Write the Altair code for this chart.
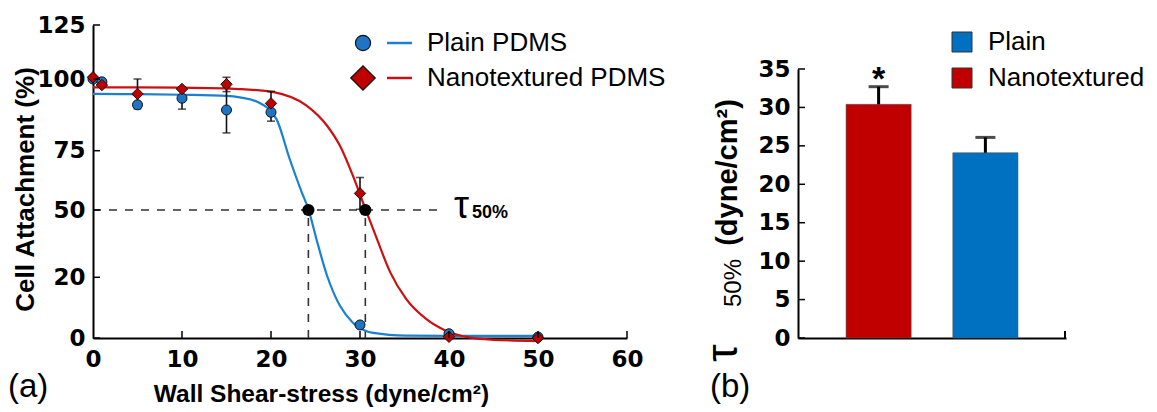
import altair as alt
import pandas as pd

# ---------------- data ----------------
stress = [0, 1, 5, 10, 15, 20, 30, 40, 50]
plain_att = [100, 99, 91, 93.3, 89.2, 88.4, 4.3, 1.4, 0.3]
plain_err = [0, 0, 0, 3.8, 8, 3.1, 0, 0, 0]
nano_att = [100.8, 97.9, 94.8, 96.5, 98.2, 91.5, 57, 0.4, 0]
nano_err = [0, 0, 5.2, 0, 2.6, 4.2, 6.7, 0, 0]

plain_fit_x = [0, 5, 10, 15, 16.5, 18.5, 20.6, 22.1, 23.45, 24.2, 25.1, 26.3, 27.75, 29.2, 31.5, 35.2, 40, 45, 50]
plain_fit_y = [94.8, 94.7, 94.5, 94.1, 93.6, 92, 86.1, 71.5, 57.5, 50.4, 37.1, 20.7, 10.6, 5.05, 1.7, 0.8, 0.7, 0.7, 0.7]
nano_fit_x = [0, 5, 10, 16.5, 20.3, 24, 26.3, 27.75, 29.2, 30.75, 31.9, 33.4, 35.2, 37.5, 39.7, 42.4, 45, 50]
nano_fit_y = [97.1, 97.1, 97, 96.5, 95.4, 90.7, 83.7, 76.7, 64.5, 49, 37.1, 22.2, 12.8, 6.1, 2.3, 0.1, -0.6, -1]

tau50_x = [24.2, 30.6]
half_level = 50
half_line_end = 39

x_ticks = [0, 10, 20, 30, 40, 50, 60]
y_ticks = [0, 20, 50, 75, 100, 125]

tau_groups = ["Nanotextured", "Plain"]
tau_values = [30.4, 24.1]
tau_errors = [2.3, 2.0]
yb_ticks = [0, 5, 10, 15, 20, 25, 30, 35]

# ---------------- styling ----------------
BLUE_LINE = "#1a80d2"
RED_LINE = "#cc1010"
BLUE_FILL = "#1f74c4"
RED_FILL = "#c00000"
BAR_RED = "#c00000"
BAR_BLUE = "#0070c0"
SANS = "Liberation Sans"
TICKF = "DejaVu Sans"

W1, H = 534, 313
W2 = 268

x_scale = alt.Scale(domain=[0, 60], nice=False, zero=False)
y_scale = alt.Scale(domain=y_ticks, range=[313, 252.3, 185, 125.7, 54, 0], nice=False, zero=False)

x_axis = alt.Axis(values=x_ticks, title="Wall Shear-stress (dyne/cm²)", ticks=False, tickSize=0,
                  labelPadding=10, labelFont=TICKF, labelFontSize=23, labelFontWeight="bold",
                  labelColor="black", labelFlush=False, labelOverlap=False,
                  domainColor="black", domainWidth=2, grid=False,
                  titleFont=SANS, titleFontSize=24.5, titleFontWeight="bold", titleColor="black",
                  titleX=228, titleY=63, titleBaseline="alphabetic", titleAlign="center")
y_axis = alt.Axis(values=y_ticks, title="Cell Attachment (%)", ticks=False, tickSize=0,
                  labelPadding=8, labelFont=TICKF, labelFontSize=23, labelFontWeight="bold",
                  labelColor="black", labelFlush=False, labelOverlap=False,
                  domainColor="black", domainWidth=2, grid=False,
                  titleFont=SANS, titleFontSize=26, titleFontWeight="bold", titleColor="black",
                  titleAngle=270, titleX=-60, titleY=164, titleBaseline="alphabetic", titleAlign="center")


def X(field):
    return alt.X(field, type="quantitative", scale=x_scale, axis=x_axis)


def Y(field):
    return alt.Y(field, type="quantitative", scale=y_scale, axis=y_axis)


pts = pd.DataFrame({"x": stress, "plain": plain_att, "pe": plain_err, "nano": nano_att, "ne": nano_err})
pts["plo"] = pts["plain"] - pts["pe"]
pts["phi"] = pts["plain"] + pts["pe"]
pts["nlo"] = pts["nano"] - pts["ne"]
pts["nhi"] = pts["nano"] + pts["ne"]

pfit = pd.DataFrame({"x": plain_fit_x, "y": plain_fit_y})
nfit = pd.DataFrame({"x": nano_fit_x, "y": nano_fit_y})

plain_line = alt.Chart(pfit).mark_line(color=BLUE_LINE, strokeWidth=2.2, interpolate="monotone").encode(
    x=X("x"), y=Y("y"))
nano_line = alt.Chart(nfit).mark_line(color=RED_LINE, strokeWidth=2.2, interpolate="monotone").encode(
    x=X("x"), y=Y("y"))

hdf = pd.DataFrame({"x0": [0], "x1": [half_line_end], "y": [half_level]})
hdash = alt.Chart(hdf).mark_rule(color="#333333", strokeWidth=1.6, strokeDash=[8, 8]).encode(
    x=X("x0"), x2="x1", y=Y("y"))
vdf = pd.DataFrame({"x": tau50_x, "y0": [0, 0], "y1": [half_level, half_level]})
vdash = alt.Chart(vdf).mark_rule(color="#333333", strokeWidth=1.6, strokeDash=[8, 8]).encode(
    x=X("x"), y=Y("y0"), y2="y1")
dots = alt.Chart(vdf).mark_circle(color="black", size=150, opacity=1).encode(x=X("x"), y=Y("y1"))

perr = pts[pts["pe"] > 0]
nerr = pts[pts["ne"] > 0]
err_layers = []
for df, lo, hi in [(perr, "plo", "phi"), (nerr, "nlo", "nhi")]:
    err_layers.append(alt.Chart(df).mark_rule(color="#111111", strokeWidth=1.6).encode(
        x=X("x"), y=Y(lo), y2=hi))
    err_layers.append(alt.Chart(df).mark_tick(color="#111111", thickness=1.6, size=8, orient="horizontal").encode(
        x=X("x"), y=Y(hi)))
    err_layers.append(alt.Chart(df).mark_tick(color="#111111", thickness=1.6, size=8, orient="horizontal").encode(
        x=X("x"), y=Y(lo)))

pmarks = alt.Chart(pts).mark_point(shape="circle", filled=True, size=100, color=BLUE_FILL,
                                   stroke="#111111", strokeWidth=1, opacity=1).encode(x=X("x"), y=Y("plain"))
nmarks = alt.Chart(pts).mark_point(shape="diamond", filled=True, size=130, color=RED_FILL,
                                   stroke="#111111", strokeWidth=1, opacity=1).encode(x=X("x"), y=Y("nano"))

ytk = alt.Chart(pd.DataFrame({"v": y_ticks})).mark_rule(color="black", strokeWidth=1.5).encode(
    y=Y("v"), x=alt.value(0), x2=alt.value(7))
xtk = alt.Chart(pd.DataFrame({"v": x_ticks[1:]})).mark_rule(color="black", strokeWidth=1.5).encode(
    x=X("v"), y=alt.value(H), y2=alt.value(H - 7))

one = pd.DataFrame({"a": [0]})


def txt(t, x, y, size, weight="normal", font=SANS, align="left", baseline="middle", angle=0):
    kw = dict(text=t, fontSize=size, fontWeight=weight, font=font, align=align, baseline=baseline, color="black")
    if angle:
        kw["angle"] = angle
    return alt.Chart(one).mark_text(**kw).encode(x=alt.value(x), y=alt.value(y))


leg_left = [
    alt.Chart(one).mark_point(shape="circle", filled=True, size=230, color=BLUE_FILL, stroke="#111111",
                              strokeWidth=1.2, opacity=1).encode(x=alt.value(270), y=alt.value(18)),
    alt.Chart(one).mark_rule(color=BLUE_LINE, strokeWidth=2.5).encode(x=alt.value(294), x2=alt.value(319), y=alt.value(18)),
    txt("Plain PDMS", 334, 18, 26),
    alt.Chart(one).mark_point(shape="diamond", filled=True, size=600, color=RED_FILL, stroke="#111111",
                              strokeWidth=1.2, opacity=1).encode(x=alt.value(270), y=alt.value(53)),
    alt.Chart(one).mark_rule(color=RED_LINE, strokeWidth=2.5).encode(x=alt.value(294), x2=alt.value(319), y=alt.value(53)),
    txt("Nanotextured PDMS", 334, 53, 26),
]

tau_lbl = [
    txt("τ", 361, 193, 38, baseline="alphabetic"),
    txt("50%", 379, 193, 18, weight="bold", baseline="alphabetic"),
    txt("(a)", -85, 362, 33),
]

left = alt.layer(hdash, vdash, plain_line, nano_line, *err_layers, pmarks, nmarks, dots, ytk, xtk,
                 *leg_left, *tau_lbl).properties(width=W1, height=H)

# ---------------- right panel ----------------
bdf = pd.DataFrame({"g": tau_groups, "v": tau_values, "e": tau_errors})
bdf["hi"] = bdf["v"] + bdf["e"]

xb_scale = alt.Scale(domain=tau_groups, paddingInner=0.39, paddingOuter=0.45)
yb_scale = alt.Scale(domain=[0, 35], range=[313, 44], nice=False, zero=True)
xb_axis = alt.Axis(labels=False, ticks=False, title=None, domainColor="black", domainWidth=2, grid=False)
yb_axis = alt.Axis(values=yb_ticks, title=None, ticks=False, tickSize=0, labelPadding=8,
                   labelFont=TICKF, labelFontSize=23, labelFontWeight="bold", labelColor="black",
                   labelFlush=False, labelOverlap=False, domainColor="black", domainWidth=2, grid=False)


def XB(field):
    return alt.X(field, type="nominal", scale=xb_scale, axis=xb_axis, sort=tau_groups)


def YB(field):
    return alt.Y(field, type="quantitative", scale=yb_scale, axis=yb_axis)


bars = alt.Chart(bdf).mark_bar(stroke="#555555", strokeWidth=0.6).encode(
    x=XB("g"), y=YB("v"),
    color=alt.Color("g:N", scale=alt.Scale(domain=tau_groups, range=[BAR_RED, BAR_BLUE]), legend=None))
berr = alt.Chart(bdf).mark_rule(color="black", strokeWidth=3).encode(x=XB("g"), y=YB("v"), y2="hi")
bcap = alt.Chart(bdf).mark_tick(color="black", thickness=3, size=20, orient="horizontal").encode(
    x=XB("g"), y=YB("hi"))
star = alt.Chart(bdf[bdf["g"] == "Nanotextured"]).mark_text(text="*", fontSize=34, fontWeight="bold",
                                                          font=SANS, color="black", dy=10,
                                                          baseline="bottom").encode(x=XB("g"), y=YB("hi"))
ybtk = alt.Chart(pd.DataFrame({"v": yb_ticks})).mark_rule(color="black", strokeWidth=1.5).encode(
    y=YB("v"), x=alt.value(0), x2=alt.value(7))
endtk = alt.Chart(one).mark_rule(color="black", strokeWidth=2).encode(
    x=alt.value(W2 - 1), y=alt.value(H), y2=alt.value(H - 7))

leg_right = [
    alt.Chart(one).mark_point(shape="square", filled=True, size=400, color=BAR_BLUE, stroke="#333333",
                              strokeWidth=1, opacity=1).encode(x=alt.value(164), y=alt.value(17)),
    txt("Plain", 190, 17, 26),
    alt.Chart(one).mark_point(shape="square", filled=True, size=400, color=BAR_RED, stroke="#333333",
                              strokeWidth=1, opacity=1).encode(x=alt.value(164), y=alt.value(53)),
    txt("Nanotextured", 190, 53, 26),
]

ytitle = [
    txt("(dyne/cm²)", -61, 147.5, 29, weight="bold", align="center", baseline="alphabetic", angle=270),
    txt("50%", -57, 258, 24, align="center", baseline="alphabetic", angle=270),
    txt("τ", -61, 328, 44, align="center", baseline="alphabetic", angle=270),
    txt("(b)", -88, 362, 33),
]

right = alt.layer(bars, berr, bcap, star, ybtk, endtk, *leg_right, *ytitle).properties(width=W2, height=H)

chart = alt.hconcat(left, right, spacing=171, bounds="flush").properties(
    padding={"left": 8, "top": 14, "right": 5, "bottom": 5}
).configure_view(stroke=None)

chart.save("out.html", embed_options={"renderer": "svg", "actions": False})
